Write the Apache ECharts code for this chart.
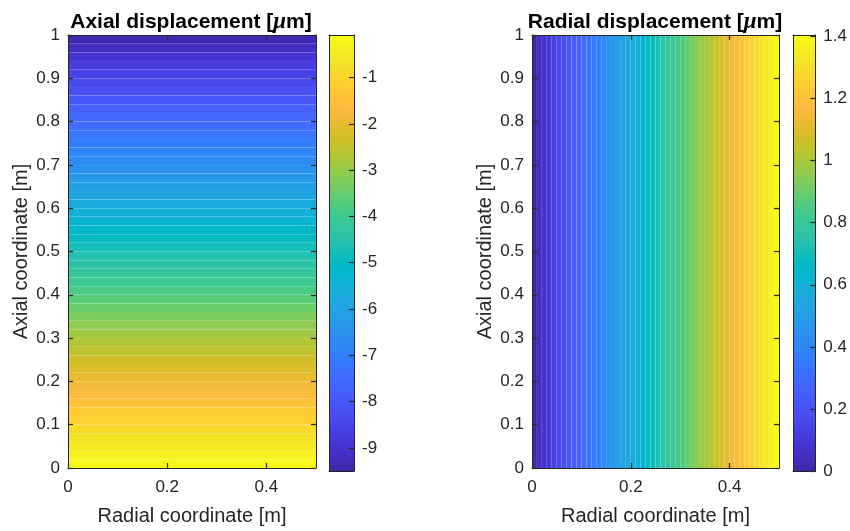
<!DOCTYPE html>
<html><head><meta charset="utf-8">
<script src="https://cdn.jsdelivr.net/npm/echarts@6/dist/echarts.min.js"></script>
<style>html,body{margin:0;padding:0;background:#fff}#c{width:850px;height:531px}</style>
</head><body><div id="c"></div>
<script>
// ---------- data ----------
const axialEdges = [0,0.02,0.04,0.06,0.08,0.1,0.12,0.14,0.16,0.18,0.2,0.22,0.24,0.26,0.28,0.3,0.32,0.34,0.36,0.38,0.4,0.42,0.44,0.46,0.48,0.5,0.52,0.54,0.56,0.58,0.6,0.62,0.64,0.66,0.68,0.7,0.72,0.74,0.76,0.78,0.8,0.82,0.84,0.86,0.88,0.9,0.92,0.94,0.96,0.98,1];
const axialDisp = [-0.16,-0.34,-0.52,-0.70,-0.88,-1.07,-1.25,-1.43,-1.62,-1.80,-1.98,-2.16,-2.34,-2.53,-2.71,-2.90,-3.08,-3.27,-3.46,-3.64,-3.83,-4.01,-4.20,-4.39,-4.58,-4.76,-4.95,-5.14,-5.33,-5.52,-5.71,-5.90,-6.09,-6.28,-6.47,-6.66,-6.85,-7.04,-7.24,-7.43,-7.62,-7.81,-8.01,-8.20,-8.40,-8.59,-8.79,-8.98,-9.18,-9.37];
const radialEdges = [0,0.01,0.02,0.03,0.04,0.05,0.06,0.07,0.08,0.09,0.1,0.11,0.12,0.13,0.14,0.15,0.16,0.17,0.18,0.19,0.2,0.21,0.22,0.23,0.24,0.25,0.26,0.27,0.28,0.29,0.3,0.31,0.32,0.33,0.34,0.35,0.36,0.37,0.38,0.39,0.4,0.41,0.42,0.43,0.44,0.45,0.46,0.47,0.48,0.49,0.5];
const radialDisp = [0.01,0.04,0.07,0.10,0.13,0.16,0.18,0.21,0.24,0.27,0.30,0.33,0.35,0.38,0.41,0.44,0.47,0.50,0.52,0.55,0.58,0.61,0.64,0.67,0.69,0.72,0.75,0.78,0.81,0.83,0.86,0.89,0.92,0.95,0.98,1.00,1.03,1.06,1.09,1.12,1.15,1.17,1.20,1.23,1.26,1.29,1.32,1.34,1.37,1.40];
const radialExtent = [0, 0.5];
const axialExtent = [0, 1];
const xTicks = [0, 0.2, 0.4];
const yTicks = [0,0.1,0.2,0.3,0.4,0.5,0.6,0.7,0.8,0.9,1];
const axialCLim = [-9.5, -0.08];
const axialCTicks = [-9,-8,-7,-6,-5,-4,-3,-2,-1];
const radialCLim = [0, 1.405];
const radialCTicks = [0,0.2,0.4,0.6,0.8,1,1.2,1.4];
const titles = ['Axial displacement [', 'Radial displacement ['];
const xName = 'Radial coordinate [m]';
const yName = 'Axial coordinate [m]';

// ---------- colormap (MATLAB parula, 64 entries) ----------
const parulaRGB = [
[0.2422,0.1504,0.6603],[0.2504,0.1650,0.7076],[0.2578,0.1818,0.7511],[0.2647,0.1978,0.7952],
[0.2706,0.2147,0.8364],[0.2751,0.2342,0.8710],[0.2783,0.2559,0.8991],[0.2803,0.2782,0.9221],
[0.2813,0.3006,0.9414],[0.2810,0.3228,0.9579],[0.2795,0.3447,0.9717],[0.2760,0.3667,0.9829],
[0.2699,0.3892,0.9906],[0.2602,0.4123,0.9952],[0.2440,0.4358,0.9988],[0.2206,0.4603,0.9973],
[0.1963,0.4847,0.9892],[0.1834,0.5074,0.9798],[0.1786,0.5289,0.9682],[0.1764,0.5499,0.9520],
[0.1687,0.5703,0.9359],[0.1540,0.5902,0.9218],[0.1460,0.6091,0.9079],[0.1380,0.6276,0.8973],
[0.1248,0.6459,0.8883],[0.1113,0.6635,0.8763],[0.0952,0.6798,0.8598],[0.0689,0.6948,0.8394],
[0.0297,0.7082,0.8163],[0.0036,0.7203,0.7917],[0.0067,0.7312,0.7660],[0.0433,0.7411,0.7394],
[0.0964,0.7500,0.7120],[0.1408,0.7584,0.6842],[0.1717,0.7670,0.6554],[0.1938,0.7758,0.6251],
[0.2161,0.7843,0.5923],[0.2470,0.7918,0.5567],[0.2906,0.7973,0.5188],[0.3406,0.8008,0.4789],
[0.3909,0.8029,0.4354],[0.4456,0.8024,0.3909],[0.5044,0.7993,0.3480],[0.5616,0.7942,0.3045],
[0.6174,0.7876,0.2612],[0.6720,0.7793,0.2227],[0.7242,0.7698,0.1910],[0.7738,0.7598,0.1646],
[0.8203,0.7498,0.1535],[0.8634,0.7406,0.1596],[0.9035,0.7330,0.1774],[0.9393,0.7288,0.2100],
[0.9728,0.7298,0.2394],[0.9956,0.7434,0.2371],[0.9970,0.7659,0.2199],[0.9952,0.7893,0.2028],
[0.9892,0.8136,0.1885],[0.9786,0.8386,0.1766],[0.9676,0.8639,0.1643],[0.9610,0.8890,0.1537],
[0.9597,0.9135,0.1423],[0.9628,0.9373,0.1265],[0.9691,0.9606,0.1064],[0.9769,0.9839,0.0805]];
const parula = parulaRGB.map(c => 'rgb(' + c.map(v => Math.round(v * 255)).join(',') + ')');

// ---------- build ----------
const FONT = '"Liberation Sans", Arial, Helvetica, sans-serif';
const INK = '#262626';
const axialCells = axialDisp.map((v, i) => [radialExtent[0], radialExtent[1], axialEdges[i], axialEdges[i+1], v]);
const radialCells = radialDisp.map((v, i) => [radialEdges[i], radialEdges[i+1], axialExtent[0], axialExtent[1], v]);

function cellRender(params, api) {
  const p0 = api.coord([api.value(0), api.value(2)]);
  const p1 = api.coord([api.value(1), api.value(3)]);
  return {type: 'rect',
    shape: {x: Math.min(p0[0], p1[0]), y: Math.min(p0[1], p1[1]), width: Math.abs(p1[0]-p0[0]), height: Math.abs(p1[1]-p0[1])},
    style: {fill: api.visual('color'), stroke: 'rgba(255,255,255,0.10)', lineWidth: 0.5}};
}
function barRender(params, api) {
  const p0 = api.coord([0, api.value(0)]);
  const p1 = api.coord([1, api.value(1)]);
  const stops = parula.map((c, i) => ({offset: i/(parula.length-1), color: c}));
  return {type: 'rect',
    shape: {x: p0[0], y: p1[1], width: p1[0]-p0[0], height: p0[1]-p1[1]},
    style: {fill: new echarts.graphic.LinearGradient(0, 1, 0, 0, stops)}};
}

const line = {show: true, onZero: false, lineStyle: {color: INK, width: 1}};
const lbl = {color: INK, fontSize: 17, fontFamily: FONT};
function ax(gridIndex, position, min, max, ticks, showLabels, extra) {
  return Object.assign({
    type: 'value', gridIndex, position, min, max, zlevel: 1, z: 10,
    axisLine: line, splitLine: {show: false},
    axisTick: ticks ? {show: true, inside: true, length: 5, lineStyle: {color: INK, width: 1.2}, customValues: ticks} : {show: false},
    axisLabel: showLabels ? Object.assign({show: true, customValues: ticks, margin: 8}, lbl) : {show: false}
  }, extra || {});
}
const nameStyle = {color: INK, fontSize: 20, fontFamily: FONT};

const grids = [
  {left: 68, top: 35, width: 248, height: 436},
  {left: 329, top: 35, width: 25, height: 436},
  {left: 532, top: 35, width: 247, height: 436},
  {left: 793, top: 35, width: 24, height: 436}
];
const xAxes = [], yAxes = [];
[0, 2].forEach(g => {
  xAxes.push(ax(g, 'bottom', radialExtent[0], radialExtent[1], xTicks, true,
    {name: xName, nameLocation: 'middle', nameGap: 38, nameTextStyle: nameStyle}));
  xAxes[xAxes.length-1].axisLabel.margin = 11;
  xAxes.push(ax(g, 'top', radialExtent[0], radialExtent[1], xTicks, false));
  yAxes.push(ax(g, 'left', axialExtent[0], axialExtent[1], yTicks, true,
    {name: yName, nameLocation: 'middle', nameGap: 37, nameTextStyle: nameStyle}));
  yAxes.push(ax(g, 'right', axialExtent[0], axialExtent[1], yTicks, false));
  const cg = g + 1;
  const clim = g === 0 ? axialCLim : radialCLim;
  const cticks = g === 0 ? axialCTicks : radialCTicks;
  xAxes.push(ax(cg, 'bottom', 0, 1, null, false));
  xAxes.push(ax(cg, 'top', 0, 1, null, false));
  yAxes.push(ax(cg, 'right', clim[0], clim[1], cticks, true));
  yAxes.push(ax(cg, 'left', clim[0], clim[1], null, false));
});

const titleRich = {
  t: {fontSize: 21, fontWeight: 'bold', fontFamily: FONT, color: '#000'},
  u: {fontSize: 23, fontStyle: 'italic', fontFamily: '"Liberation Serif", serif', color: '#000'}
};

const option = {
  animation: false,
  backgroundColor: '#fff',
  title: [
    {text: '{t|' + titles[0] + '}{u|μ}{t|m]}', left: 186, top: 6, textAlign: 'center', textStyle: {rich: titleRich}},
    {text: '{t|' + titles[1] + '}{u|μ}{t|m]}', left: 650, top: 6, textAlign: 'center', textStyle: {rich: titleRich}}
  ],
  grid: grids,
  xAxis: xAxes,
  yAxis: yAxes,
  visualMap: [
    {show: false, type: 'continuous', seriesIndex: 0, dimension: 4, min: axialCLim[0], max: axialCLim[1], inRange: {color: parula}},
    {show: false, type: 'continuous', seriesIndex: 2, dimension: 4, min: radialCLim[0], max: radialCLim[1], inRange: {color: parula}}
  ],
  series: [
    {type: 'custom', xAxisIndex: 0, yAxisIndex: 0, data: axialCells, renderItem: cellRender, z: 2},
    {type: 'custom', xAxisIndex: 2, yAxisIndex: 2, data: [axialCLim], renderItem: barRender, z: 2},
    {type: 'custom', xAxisIndex: 4, yAxisIndex: 4, data: radialCells, renderItem: cellRender, z: 2},
    {type: 'custom', xAxisIndex: 6, yAxisIndex: 6, data: [radialCLim], renderItem: barRender, z: 2}
  ]
};
const chart = echarts.init(document.getElementById('c'), null, {renderer: 'canvas'});
chart.setOption(option);
</script>
</body></html>
